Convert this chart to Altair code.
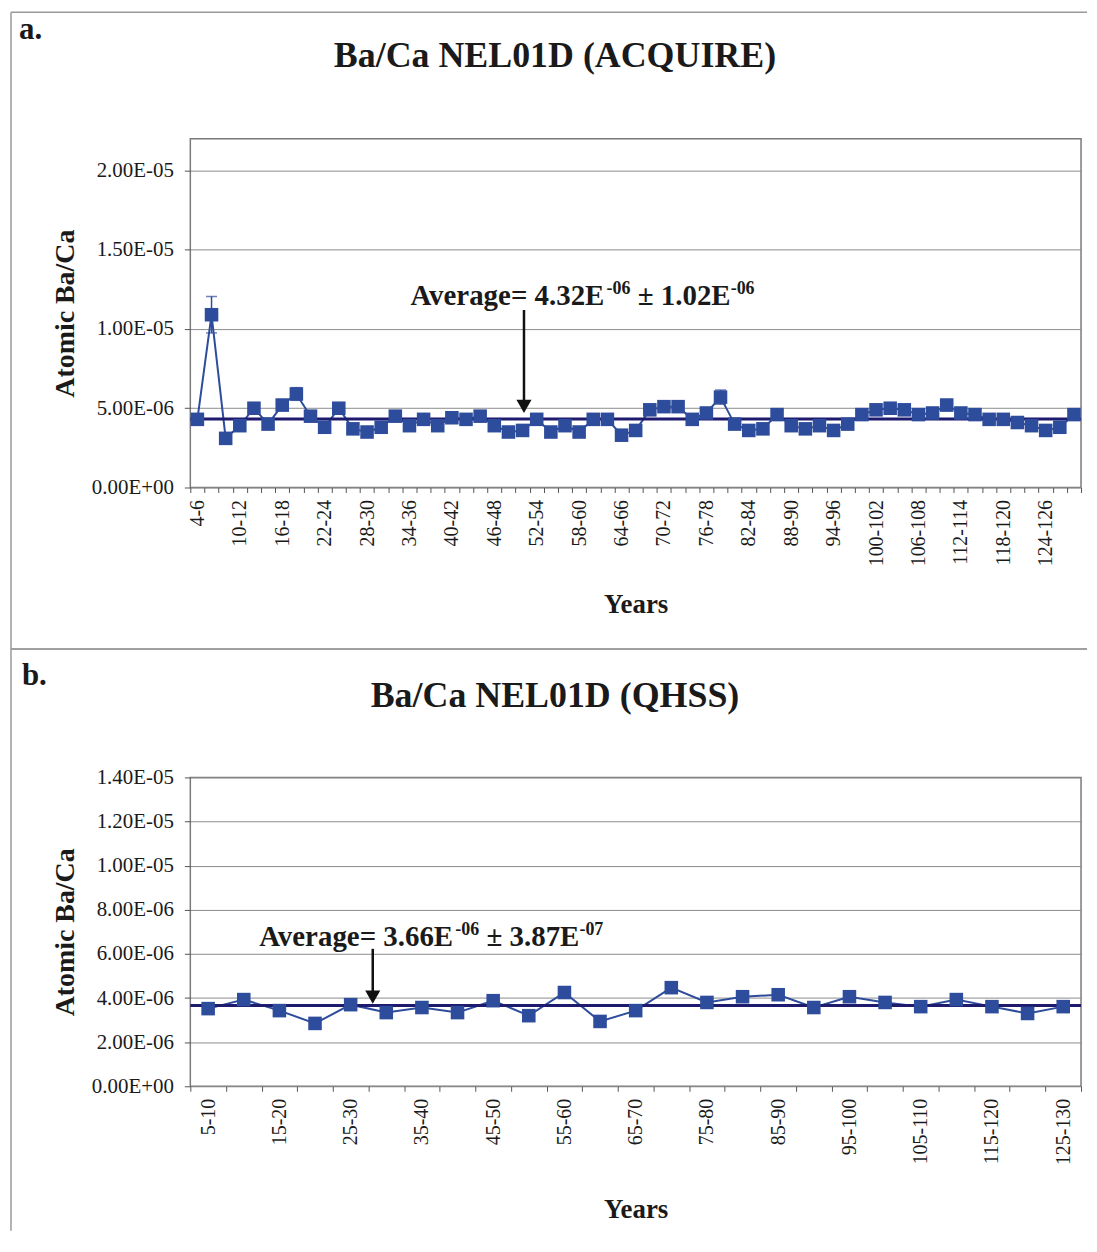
import json
import altair as alt
import pandas as pd

FONT = "Liberation Serif"
BLUE = "#2E4C9C"
NAVY = "#1E1A6E"
INK = "#1a1a1a"

# ---------------- Panel a data (values in units of 1e-6) ----------------
cats_a = ["4-6", "6-8", "8-10", "10-12", "12-14", "14-16", "16-18", "18-20", "20-22",
          "22-24", "24-26", "26-28", "28-30", "30-32", "32-34", "34-36", "36-38", "38-40",
          "40-42", "42-44", "44-46", "46-48", "48-50", "50-52", "52-54", "54-56", "56-58",
          "58-60", "60-62", "62-64", "64-66", "66-68", "68-70", "70-72", "72-74", "74-76",
          "76-78", "78-80", "80-82", "82-84", "84-86", "86-88", "88-90", "90-92", "92-94",
          "94-96", "96-98", "98-100", "100-102", "102-104", "104-106", "106-108", "108-110",
          "110-112", "112-114", "114-116", "116-118", "118-120", "120-122", "122-124",
          "124-126", "126-128", "128-130"]
vals_a = [4.3, 10.9, 3.1, 3.9, 5.0, 4.0, 5.2, 5.9, 4.5,
          3.8, 5.0, 3.7, 3.5, 3.8, 4.5, 3.9, 4.3, 3.9,
          4.4, 4.3, 4.5, 3.9, 3.5, 3.6, 4.3, 3.5, 3.9,
          3.5, 4.3, 4.3, 3.3, 3.6, 4.9, 5.1, 5.1, 4.3,
          4.7, 5.7, 4.0, 3.6, 3.7, 4.6, 3.9, 3.7, 3.9,
          3.6, 4.0, 4.6, 4.9, 5.0, 4.9, 4.6, 4.7,
          5.2, 4.7, 4.6, 4.3, 4.3, 4.1, 3.9,
          3.6, 3.8, 4.6]
errs_a = [0.25, 1.15, 0.25, 0.25, 0.35, 0.25, 0.35, 0.4, 0.25,
          0.25, 0.35, 0.25, 0.25, 0.25, 0.25, 0.25, 0.25, 0.25,
          0.25, 0.25, 0.25, 0.25, 0.25, 0.25, 0.25, 0.25, 0.25,
          0.25, 0.25, 0.25, 0.25, 0.25, 0.3, 0.35, 0.35, 0.25,
          0.3, 0.45, 0.25, 0.25, 0.25, 0.3, 0.25, 0.25, 0.25,
          0.25, 0.25, 0.25, 0.3, 0.35, 0.3, 0.3, 0.25,
          0.35, 0.25, 0.25, 0.25, 0.25, 0.25, 0.25,
          0.25, 0.25, 0.3]
ticklabels_a = ["4-6", "10-12", "16-18", "22-24", "28-30", "34-36", "40-42", "46-48",
                "52-54", "58-60", "64-66", "70-72", "76-78", "82-84", "88-90", "94-96",
                "100-102", "106-108", "112-114", "118-120", "124-126"]
yticks_a = [0, 5e-6, 1e-5, 1.5e-5, 2e-5]
ymax_a = 2.2e-5
avg_a = 4.32e-6
ann_a = ["Average= 4.32E", "-06", "\u00b1 1.02E", "-06"]

# ---------------- Panel b data (values in units of 1e-6) ----------------
cats_b = ["5-10", "10-15", "15-20", "20-25", "25-30", "30-35", "35-40", "40-45", "45-50",
          "50-55", "55-60", "60-65", "65-70", "70-75", "75-80", "80-85", "85-90", "90-95",
          "95-100", "100-105", "105-110", "110-115", "115-120", "120-125", "125-130"]
vals_b = [3.52, 3.93, 3.43, 2.85, 3.70, 3.34, 3.57, 3.34, 3.88,
          3.20, 4.25, 2.94, 3.43, 4.47, 3.80, 4.06, 4.15, 3.57,
          4.06, 3.80, 3.61, 3.93, 3.61, 3.30, 3.61]
ticklabels_b = ["5-10", "15-20", "25-30", "35-40", "45-50", "55-60", "65-70", "75-80",
                "85-90", "95-100", "105-110", "115-120", "125-130"]
yticks_b = [0, 2e-6, 4e-6, 6e-6, 8e-6, 1e-5, 1.2e-5, 1.4e-5]
ymax_b = 1.4e-5
avg_b = 3.66e-6
ann_b = ["Average= 3.66E", "-06", "\u00b1 3.87E", "-07"]

SCALE = 1e-6

SCI = ("datum.value == 0 ? '0.00E+00' : "
       "format(datum.value / pow(10, floor(log(datum.value) / LN10 + 1e-9)), '.2f') + 'E-' + "
       "((-floor(log(datum.value) / LN10 + 1e-9)) < 10 ? '0' : '') + "
       "(-floor(log(datum.value) / LN10 + 1e-9))")

one = pd.DataFrame({"d": [0]})

# Times-metric widths (per 1000 em) for bold text, used to place superscripts
W_BOLD = {"A": 722, "v": 500, "e": 444, "r": 444, "a": 500, "g": 500, "=": 570, " ": 250,
          ".": 250, "E": 667, "\u00b1": 549, "-": 333}


def text_width(s, size):
    return sum(W_BOLD.get(c, 500) for c in s) * size / 1000.0


def panel(cats, vals, errs, ticklabels, yticks, ymax, avg, height, title, letter,
          ann_parts, ann_cat, ann_band, ann_y, arrow_top, arrow_head, x_title_pad,
          frame_top, frame_bottom, draw_bottom_rule):
    df = pd.DataFrame({"cat": cats, "val": [v * SCALE for v in vals]})
    if errs is not None:
        df["lo"] = [(v - e) * SCALE for v, e in zip(vals, errs)]
        df["hi"] = [(v + e) * SCALE for v, e in zip(vals, errs)]

    ysc = alt.Scale(domain=[0, ymax], nice=False, zero=True)
    xlab = "indexof(" + json.dumps(ticklabels) + ", datum.value) >= 0 ? datum.value : ''"
    xscale = alt.Scale(type="band", paddingInner=0, paddingOuter=0, domain=cats)
    xaxis = alt.Axis(labelExpr=xlab, labelAngle=-90, labelFont=FONT, labelFontSize=20,
                     labelColor=INK, labelPadding=7, labelOverlap=False, tickSize=5,
                     tickColor="#555", tickBand="extent", domain=False, grid=False,
                     title="Years", titleFont=FONT, titleFontSize=27, titleFontWeight="bold",
                     titleColor=INK, titlePadding=x_title_pad)
    yaxis = alt.Axis(values=yticks, labelExpr=SCI, labelFont=FONT, labelFontSize=21,
                     labelColor=INK, labelPadding=11, tickSize=6, tickColor="#555",
                     domain=False, grid=True, gridColor="#8c8c8c", gridWidth=1,
                     title="Atomic Ba/Ca", titleFont=FONT, titleFontSize=28,
                     titleFontWeight="bold", titleColor=INK, titlePadding=12)
    X = alt.X("cat:N", sort=cats, scale=xscale, axis=xaxis)
    Y = alt.Y("val:Q", scale=ysc, axis=yaxis)

    base = alt.Chart(df)
    layers = []

    # panel frame (decorative)
    frame = alt.Chart(one).mark_rule(color="#9a9a9a", strokeWidth=1.5)
    layers.append(frame.encode(x=alt.value(-180), x2=alt.value(900), y=alt.value(frame_top)))
    layers.append(frame.encode(x=alt.value(-180), y=alt.value(frame_top), y2=alt.value(frame_bottom)))
    if draw_bottom_rule:
        layers.append(frame.encode(x=alt.value(-180), x2=alt.value(900), y=alt.value(frame_bottom)))

    if errs is not None:
        layers.append(base.mark_rule(color=BLUE, strokeWidth=1.5).encode(
            x=X, y=alt.Y("lo:Q", scale=ysc), y2="hi:Q"))
        layers.append(base.mark_tick(color=BLUE, size=11, thickness=1.5).encode(
            x=X, y=alt.Y("lo:Q", scale=ysc)))
        layers.append(base.mark_tick(color=BLUE, size=11, thickness=1.5).encode(
            x=X, y=alt.Y("hi:Q", scale=ysc)))

    layers.append(base.mark_line(color=BLUE, strokeWidth=2).encode(x=X, y=Y))
    layers.append(alt.Chart(pd.DataFrame({"avg": [avg]})).mark_rule(color=NAVY, strokeWidth=3).encode(
        y=alt.Y("avg:Q", scale=ysc)))
    layers.append(base.mark_point(shape="square", filled=True, size=185, color=BLUE,
                                  opacity=1).encode(x=X, y=Y))

    # annotation: arrow + text with superscripts
    ann = pd.DataFrame({"cat": [ann_cat], "top": [arrow_top], "head": [arrow_head],
                        "ty": [ann_y]})
    AX = alt.X("cat:N", sort=cats, scale=xscale, bandPosition=ann_band)
    layers.append(alt.Chart(ann).mark_rule(color="#111", strokeWidth=2.5).encode(
        x=AX, y=alt.Y("top:Q", scale=ysc), y2="head:Q"))
    layers.append(alt.Chart(ann).mark_point(shape="triangle-down", filled=True, size=230,
                                            color="#111", opacity=1).encode(
        x=AX, y=alt.Y("head:Q", scale=ysc)))
    big, small = 29, 18
    dx = -114
    for i, part in enumerate(ann_parts):
        is_sup = i % 2 == 1
        size = small if is_sup else big
        if i == 2:
            dx += text_width(" ", big)
        layers.append(alt.Chart(ann).mark_text(
            align="left", baseline="alphabetic", dx=dx, dy=(-11 if is_sup else 0),
            font=FONT, fontSize=size, fontWeight="bold", color=INK, text=part).encode(
            x=AX, y=alt.Y("ty:Q", scale=ysc)))
        dx += text_width(part, size)

    # panel letter and title
    layers.append(alt.Chart(one).mark_text(align="left", baseline="alphabetic", font=FONT,
                                           fontSize=31, fontWeight="bold", color=INK,
                                           text=letter[0]).encode(
        x=alt.value(letter[1]), y=alt.value(letter[2])))
    layers.append(alt.Chart(one).mark_text(align="center", baseline="alphabetic", font=FONT,
                                           fontSize=36, fontWeight="bold", color=INK,
                                           text=title[0]).encode(
        x=alt.value(title[1]), y=alt.value(title[2])))

    return alt.layer(*layers).properties(width=894, height=height)


chart_a = panel(cats_a, vals_a, errs_a, ticklabels_a, yticks_a, ymax_a, avg_a, 350,
                ("Ba/Ca NEL01D (ACQUIRE)", 366, -72), ("a.", -172, -100),
                ann_a, "50-52", 0.6, 1.151e-5, 1.12e-5, 5.12e-6, 26, -127, 512, True)
chart_b = panel(cats_b, vals_b, None, ticklabels_b, yticks_b, ymax_b, avg_b, 310,
                ("Ba/Ca NEL01D (QHSS)", 366, -71), ("b.", -169, -93),
                ann_b, "30-35", 0.12, 6.37e-6, 6.23e-6, 4.04e-6, 32, -129, 455, False)

chart = alt.vconcat(chart_a, chart_b, spacing=291, bounds="flush").configure_view(
    stroke="#7a7a7a", strokeWidth=1.5
).properties(padding={"left": 1, "top": 0, "right": 0, "bottom": 0})

chart.save("out.html", embed_options={"renderer": "svg", "actions": False})
